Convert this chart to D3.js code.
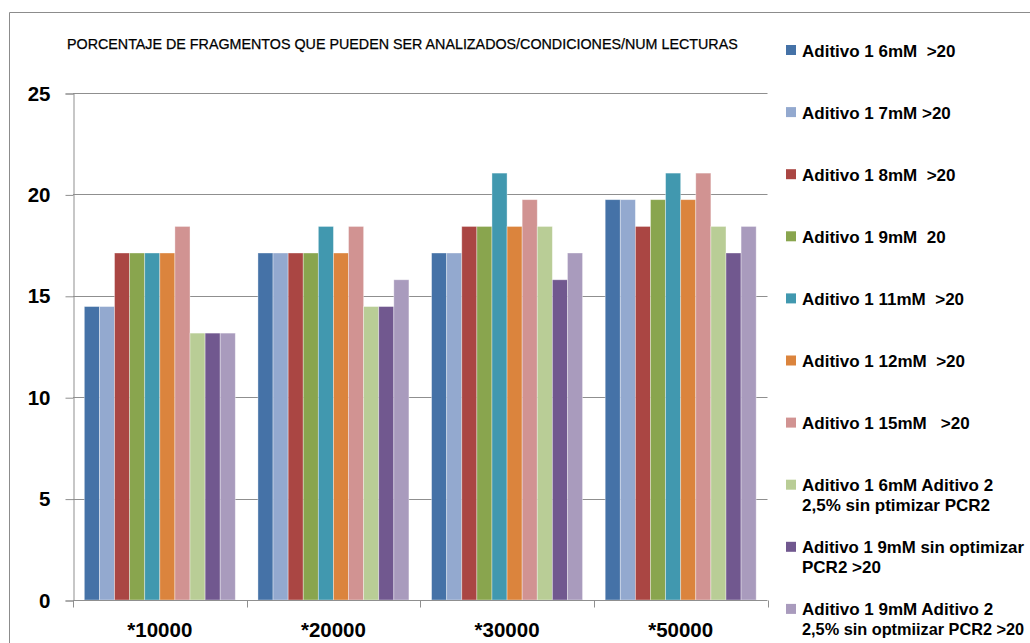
<!DOCTYPE html>
<html>
<head>
<meta charset="utf-8">
<script src="https://cdn.jsdelivr.net/npm/d3@7"></script>
<style>
  html, body { margin: 0; padding: 0; background: #fff; }
  svg { display: block; }
  text { font-family: "Liberation Sans", Arial, sans-serif; fill: #000; }
</style>
</head>
<body>
<svg id="chart" width="1030" height="643"></svg>
<script>
// Reading-count groups
const categories = ["*10000", "*20000", "*30000", "*50000"];

// Legend labels, one entry per series (lines split where the label wraps)
const seriesLabels = [
  ["Aditivo 1 6mM  >20"],
  ["Aditivo 1 7mM >20"],
  ["Aditivo 1 8mM  >20"],
  ["Aditivo 1 9mM  20"],
  ["Aditivo 1 11mM  >20"],
  ["Aditivo 1 12mM  >20"],
  ["Aditivo 1 15mM   >20"],
  ["Aditivo 1 6mM Aditivo 2", "2,5% sin ptimizar PCR2"],
  ["Aditivo 1 9mM sin optimizar", "PCR2 >20"],
  ["Aditivo 1 9mM Aditivo 2", "2,5% sin optmiizar PCR2 >20"]
];

const seriesColors = ["#4572A7", "#93A9CF", "#AA4643", "#89A54E", "#4198AF",
                      "#DB843D", "#D19392", "#B9CD96", "#71588F", "#A99BBD"];

// Percentage of fragments per series, in category order
const s1  = [14.47, 17.11, 17.11, 19.74];
const s2  = [14.47, 17.11, 17.11, 19.74];
const s3  = [17.11, 17.11, 18.42, 18.42];
const s4  = [17.11, 17.11, 18.42, 19.74];
const s5  = [17.11, 18.42, 21.05, 21.05];
const s6  = [17.11, 17.11, 18.42, 19.74];
const s7  = [18.42, 18.42, 19.74, 21.05];
const s8  = [13.16, 14.47, 18.42, 18.42];
const s9  = [13.16, 14.47, 15.79, 17.11];
const s10 = [13.16, 15.79, 17.11, 18.42];
const seriesValues = [s1, s2, s3, s4, s5, s6, s7, s8, s9, s10];

const yTicks = [0, 5, 10, 15, 20, 25];
const title = "PORCENTAJE DE FRAGMENTOS QUE PUEDEN SER ANALIZADOS/CONDICIONES/NUM LECTURAS";

const svg = d3.select("#chart");
const width = 1030;
const plot = { left: 73, right: 767.5, top: 93, bottom: 600 };
const gridColor = "#8f8f8f";

// Outer chart frame (left and top edges)
svg.append("path")
  .attr("d", "M9.5,643 V12.5 H1030")
  .attr("fill", "none")
  .attr("stroke", "#8c8c8c")
  .attr("stroke-width", 1);

// Title
svg.append("text")
  .attr("x", 67)
  .attr("y", 49)
  .attr("font-size", 14.3)
  .attr("stroke", "#000")
  .attr("stroke-width", 0.25)
  .text(title);

const x = d3.scaleBand()
  .domain(categories)
  .range([plot.left, plot.right])
  .paddingInner(0)
  .paddingOuter(0);

const xs = d3.scaleBand()
  .domain(d3.range(seriesValues.length))
  .range([0, x.bandwidth()])
  .paddingInner(0)
  .paddingOuter(0.75);

const y = d3.scaleLinear()
  .domain([0, 25])
  .range([plot.bottom, plot.top]);

// Horizontal gridlines
svg.append("g")
  .selectAll("line")
  .data(yTicks.filter(t => t > 0))
  .join("line")
  .attr("x1", plot.left)
  .attr("x2", plot.right)
  .attr("y1", d => Math.round(y(d)) + 0.5)
  .attr("y2", d => Math.round(y(d)) + 0.5)
  .attr("stroke", gridColor)
  .attr("stroke-width", 1);

// Bars
const groups = svg.append("g")
  .selectAll("g")
  .data(seriesValues)
  .join("g")
  .attr("fill", (d, i) => seriesColors[i]);

groups.selectAll("rect")
  .data((vals, si) => vals.map((v, ci) => ({ v, si, ci })))
  .join("rect")
  .attr("x", d => x(categories[d.ci]) + xs(d.si))
  .attr("width", xs.bandwidth())
  .attr("y", d => y(d.v))
  .attr("height", d => y(0) - y(d.v))
  .attr("stroke", "rgba(255,255,255,0.45)")
  .attr("stroke-width", 0.8);

// Y axis
const yAxis = d3.axisLeft(y)
  .tickValues(yTicks)
  .tickSize(8)
  .tickPadding(15)
  .tickFormat(d3.format("d"));

const gy = svg.append("g")
  .attr("transform", `translate(${plot.left + 0.5},0.5)`)
  .call(yAxis);
gy.select(".domain").attr("stroke", gridColor);
gy.selectAll(".tick line").attr("stroke", gridColor);
gy.selectAll(".tick text")
  .attr("font-family", "Liberation Sans, Arial, sans-serif")
  .attr("font-size", 20.5)
  .attr("font-weight", "bold")
  .attr("fill", "#000");

// X axis: ticks on category boundaries, labels centred in each category
const gx = svg.append("g")
  .attr("transform", `translate(0,${plot.bottom + 0.5})`);
gx.append("line")
  .attr("x1", plot.left)
  .attr("x2", plot.right)
  .attr("stroke", gridColor);
const boundaries = categories.map(c => x(c)).concat([plot.right]);
gx.selectAll("line.tick")
  .data(boundaries)
  .join("line")
  .attr("class", "tick")
  .attr("x1", d => Math.round(d) + 0.5)
  .attr("x2", d => Math.round(d) + 0.5)
  .attr("y1", 0)
  .attr("y2", 7)
  .attr("stroke", gridColor);
gx.selectAll("text")
  .data(categories)
  .join("text")
  .attr("x", d => x(d) + x.bandwidth() / 2)
  .attr("y", 36)
  .attr("text-anchor", "middle")
  .attr("font-size", 20.5)
  .attr("font-weight", "bold")
  .text(d => d);

// Legend
const legendX = 786, legendTop = 50, legendStep = 62.1, textOffset = 16;
const legendFont = 17;
const maxLine = width - 5 - (legendX + textOffset);
const legend = svg.append("g")
  .selectAll("g")
  .data(seriesLabels)
  .join("g")
  .attr("transform", (d, i) => `translate(${legendX},${legendTop + i * legendStep})`);

legend.append("rect")
  .attr("x", 0)
  .attr("y", -5)
  .attr("width", 10)
  .attr("height", 10)
  .attr("fill", (d, i) => seriesColors[i]);

legend.each(function(lines) {
  const t = d3.select(this).append("text")
    .attr("x", textOffset)
    .attr("y", 6.5)
    .attr("font-size", legendFont)
    .attr("font-weight", "bold")
    .style("white-space", "pre");
  lines.forEach((line, k) => {
    const span = t.append("tspan")
      .attr("x", textOffset)
      .attr("dy", k === 0 ? 0 : 19.5)
      .text(line);
    // shrink a line slightly if it would run past the right edge
    const len = span.node().getComputedTextLength();
    if (len > maxLine) {
      span.attr("font-size", Math.floor(legendFont * maxLine / len * 10) / 10);
    }
  });
});
</script>
</body>
</html>
